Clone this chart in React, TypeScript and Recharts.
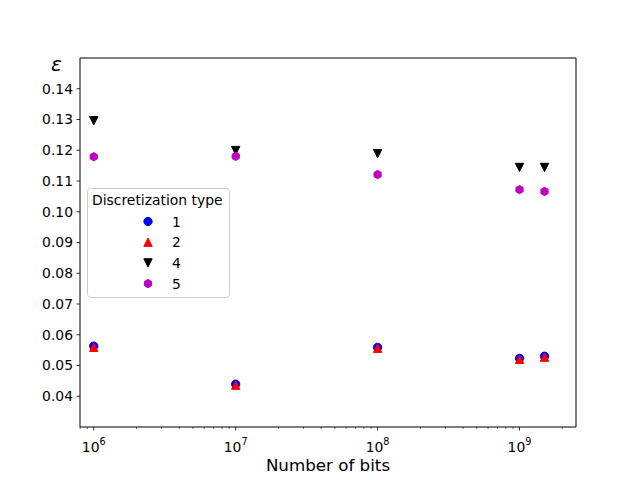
import { ScatterChart, Scatter, XAxis, YAxis, ReferenceLine } from 'recharts';

// number of bits (x) and epsilon per discretization type
const bits = [1e6, 1e7, 1e8, 1e9, 1.5e9];
const type1 = [0.0563, 0.0439, 0.0559, 0.0523, 0.053];
const type2 = [0.0559, 0.0436, 0.0556, 0.052, 0.0527];
const type4 = [0.1296, 0.1199, 0.1189, 0.1144, 0.1144];
const type5 = [0.1179, 0.118, 0.1121, 0.1072, 0.1066];

const yTicks = [0.04, 0.05, 0.06, 0.07, 0.08, 0.09, 0.1, 0.11, 0.12, 0.13, 0.14];
const xDomain = [8e5, 2.5e9];
const yDomain = [0.03, 0.15];

// log ticks: majors at decades, minors at 2..9 x decade
const xTicks: number[] = [];
for (let e = 5; e <= 9; e++) {
  for (let m = 1; m <= 9; m++) {
    const v = m * Math.pow(10, e);
    if (v >= xDomain[0] && v <= xDomain[1]) xTicks.push(v);
  }
}

const FONT = '"DejaVu Sans", sans-serif';
const S = 4.17;

type Kind = 'o' | '^' | 'v' | 'h';

const series: { name: string; values: number[]; color: string; kind: Kind }[] = [
  { name: '1', values: type1, color: '#0000ff', kind: 'o' },
  { name: '2', values: type2, color: '#ff0000', kind: '^' },
  { name: '4', values: type4, color: '#000000', kind: 'v' },
  { name: '5', values: type5, color: '#bf00bf', kind: 'h' },
];

const Marker = ({ kind, cx, cy, color }: { kind: Kind; cx: number; cy: number; color: string }) => {
  if (kind === 'o') return <circle cx={cx} cy={cy} r={S} fill={color} stroke={color} strokeWidth={1} />;
  let pts: number[][] = [];
  if (kind === '^') pts = [[0, -S], [-S, S], [S, S]];
  else if (kind === 'v') pts = [[0, S], [-S, -S], [S, -S]];
  else {
    for (let k = 0; k < 6; k++) {
      const a = (Math.PI / 2) + (k * Math.PI) / 3;
      pts.push([S * Math.cos(a), -S * Math.sin(a)]);
    }
  }
  return (
    <polygon
      points={pts.map(p => `${cx + p[0]},${cy + p[1]}`).join(' ')}
      fill={color}
      stroke={color}
      strokeWidth={1}
      strokeLinejoin="miter"
    />
  );
};

const XTick = (props: any) => {
  const { x, y, payload } = props;
  const lg = Math.log10(payload.value);
  const exp = Math.round(lg);
  const major = Math.abs(lg - exp) < 1e-9;
  return (
    <g>
      <line x1={x} x2={x} y1={y} y2={y + (major ? 3.5 : 2)} stroke="#000" strokeWidth={major ? 0.8 : 0.6} />
      {major && (
        <text x={x} y={y + 25} textAnchor="middle" fontFamily={FONT} fontSize={13.9} fill="#000">
          10<tspan dy={-7} fontSize={9.7}>{exp}</tspan>
        </text>
      )}
    </g>
  );
};

const LegendBox = () => (
  <svg width={143} height={110} style={{ display: 'block' }}>
    <rect x={0.5} y={0.5} width={142} height={109} rx={3} fill="#ffffff" fillOpacity={0.8} stroke="#cccccc" />
    <text x={5} y={17} fontFamily={FONT} fontSize={13.9} fill="#000">Discretization type</text>
    {series.map((s, i) => (
      <g key={s.name}>
        <Marker kind={s.kind} cx={61} cy={33.5 + i * 20.7} color={s.color} />
        <text x={85} y={38.5 + i * 20.7} fontFamily={FONT} fontSize={13.9} fill="#000">{s.name}</text>
      </g>
    ))}
  </svg>
);

export default function App() {
  return (
    <div style={{ position: 'absolute', left: 0, top: 0, width: 640, height: 480, background: '#fff' }}>
      <ScatterChart width={640} height={480} margin={{ top: 58, right: 64, bottom: 0, left: 0 }}>
        <XAxis
          dataKey="x"
          type="number"
          scale="log"
          domain={xDomain}
          allowDataOverflow
          ticks={xTicks}
          interval={0}
          tickSize={0}
          tickMargin={0}
          tickLine={false}
          tick={<XTick />}
          height={53}
          axisLine={{ stroke: '#000', strokeWidth: 1 }}
        />
        <YAxis
          dataKey="y"
          type="number"
          domain={yDomain}
          allowDataOverflow
          ticks={yTicks}
          interval={0}
          width={80}
          tickSize={3.5}
          tickMargin={3.5}
          tickFormatter={(v: number) => v.toFixed(2)}
          tick={{ fill: '#000', fontSize: 13.9, fontFamily: FONT }}
          tickLine={{ stroke: '#000', strokeWidth: 0.8 }}
          axisLine={{ stroke: '#000', strokeWidth: 1 }}
        />
        <ReferenceLine y={yDomain[1]} stroke="#000" strokeWidth={1} ifOverflow="visible" />
        <ReferenceLine x={xDomain[1]} stroke="#000" strokeWidth={1} ifOverflow="visible" />
        {series.map(s => (
          <Scatter
            key={s.name}
            name={s.name}
            data={bits.map((b, i) => ({ x: b, y: s.values[i] }))}
            fill={s.color}
            isAnimationActive={false}
            shape={(p: any) => <Marker kind={s.kind} cx={p.cx} cy={p.cy} color={s.color} />}
          />
        ))}
      </ScatterChart>
      <div style={{ position: 'absolute', left: 87, top: 188 }}>
        <LegendBox />
      </div>
      <div
        style={{
          position: 'absolute', left: 51, top: 52, fontFamily: FONT, fontStyle: 'italic',
          fontSize: 20, lineHeight: '24px', color: '#000',
        }}
      >
        ε
      </div>
      <div
        style={{
          position: 'absolute', left: 0, width: 656, top: 456, textAlign: 'center',
          fontFamily: FONT, fontSize: 16.7, lineHeight: '18px', color: '#000',
        }}
      >
        Number of bits
      </div>
    </div>
  );
}
